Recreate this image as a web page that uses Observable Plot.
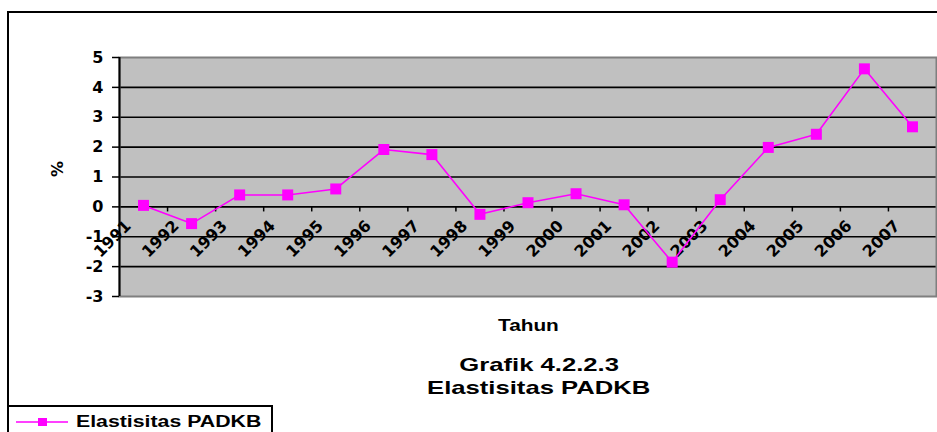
<!DOCTYPE html>
<html>
<head>
<meta charset="utf-8">
<script src="https://cdn.jsdelivr.net/npm/d3@7"></script>
<script src="https://cdn.jsdelivr.net/npm/@observablehq/plot@0.6"></script>
<style>
  html, body { margin: 0; padding: 0; background: white; }
  #wrap { position: relative; width: 937px; height: 432px; overflow: hidden; font-family: "Liberation Sans", Arial, sans-serif; font-weight: bold; color: black; }
  #outer { position: absolute; left: 7px; top: 11px; width: 960px; height: 460px; border-left: 2px solid black; border-top: 2px solid black; box-sizing: border-box; }
  #chart { position: absolute; left: 0; top: 0; }
  .t { position: absolute; white-space: nowrap; transform-origin: center center; }
  #legend { position: absolute; left: 7px; top: 405px; width: 266px; height: 40px; border: 2px solid black; box-sizing: border-box; background: white; }
</style>
</head>
<body>
<div id="wrap">
  <div id="chart"></div>
  <div id="outer"></div>
  <div class="t" id="xlab">Tahun</div>
  <div class="t" id="title1">Grafik 4.2.2.3</div>
  <div class="t" id="title2">Elastisitas PADKB</div>
  <div id="legend"><svg width="262" height="30" style="position:absolute;left:0;top:0"><line x1="7" x2="59" y1="15" y2="15" stroke="#ff00ff" stroke-width="1.5"/><rect x="29" y="11" width="9" height="8" fill="#ff00ff"/></svg><div class="t" id="legtext">Elastisitas PADKB</div></div>
</div>
<script>
// ---- data ----
const years = [1991,1992,1993,1994,1995,1996,1997,1998,1999,2000,2001,2002,2003,2004,2005,2006,2007];
const values = [0.05,-0.56,0.40,0.40,0.60,1.92,1.75,-0.25,0.14,0.44,0.07,-1.85,0.24,1.99,2.43,4.62,2.68];
const yTicks = [-3,-2,-1,0,1,2,3,4,5];
const gridValues = [-2,-1,0,1,2,3,4];
const seriesName = "Elastisitas PADKB";
const xTitle = "Tahun";
const yTitle = "%";
const titleLines = ["Grafik 4.2.2.3", "Elastisitas PADKB"];

const data = years.map((y, i) => ({year: y, value: values[i]}));
const boundaries = years.map(y => y - 0.5);
const tickFont = "'DejaVu Sans', sans-serif";

const chart = Plot.plot({
  width: 937,
  height: 432,
  marginLeft: 119,
  marginRight: 1,
  marginTop: 57,
  marginBottom: 136,
  style: {fontFamily: tickFont, fontWeight: "bold", fontSize: "16px", background: "transparent", color: "black"},
  x: {domain: [years[0] - 0.5, years[years.length - 1] + 0.5], axis: null},
  y: {domain: [-3, 5], axis: null},
  marks: [
    Plot.frame({fill: "#c0c0c0"}),
    Plot.ruleY(gridValues, {stroke: "black", strokeWidth: 1.6}),
    Plot.frame({stroke: "#7f7f7f", strokeWidth: 2}),
    Plot.ruleX([years[0] - 0.5], {stroke: "black", strokeWidth: 2}),
    Plot.axisY({ticks: yTicks, tickSize: 7, tickPadding: 9, tickFormat: d => String(d), label: null, strokeWidth: 1.5, fontSize: 16, fontWeight: "bold", fontFamily: tickFont}),
    Plot.ruleX(boundaries.slice(1), {y1: 0, y2: -0.17, stroke: "black", strokeWidth: 1.5}),
    Plot.text(years, {x: d => d, y: () => 0, text: d => String(d), rotate: -45, dx: -31, dy: 32, textAnchor: "middle", fontSize: 16, fontWeight: "bold", fontFamily: tickFont}),
    Plot.text([yTitle], {frameAnchor: "left", dx: -62, rotate: -90, fontSize: 16, fontWeight: "bold", fontFamily: tickFont}),
    Plot.line(data, {x: "year", y: "value", stroke: "#ff00ff", strokeWidth: 1.6}),
    Plot.dot(data, {x: "year", y: "value", symbol: "square", fill: "#ff00ff", r: 6.2})
  ]
});
document.getElementById("chart").appendChild(chart);

function place(id, text, cx, cy, size, sx) {
  const el = document.getElementById(id);
  el.textContent = text;
  el.style.fontSize = size + "px";
  el.style.lineHeight = size + "px";
  const w = el.offsetWidth, h = el.offsetHeight;
  el.style.left = (cx - w / 2) + "px";
  el.style.top = (cy - h / 2) + "px";
  el.style.transform = "scaleX(" + sx + ")";
}
place("xlab", xTitle, 528, 326, 16, 1.3);
place("title1", titleLines[0], 539, 364, 19, 1.35);
place("title2", titleLines[1], 538, 387, 19, 1.35);
const lt = document.getElementById("legtext");
lt.textContent = seriesName;
lt.style.fontSize = "16px";
lt.style.lineHeight = "16px";
lt.style.transformOrigin = "left center";
lt.style.left = "67px";
lt.style.top = "7px";
lt.style.transform = "scaleX(1.33)";
</script>
</body>
</html>
